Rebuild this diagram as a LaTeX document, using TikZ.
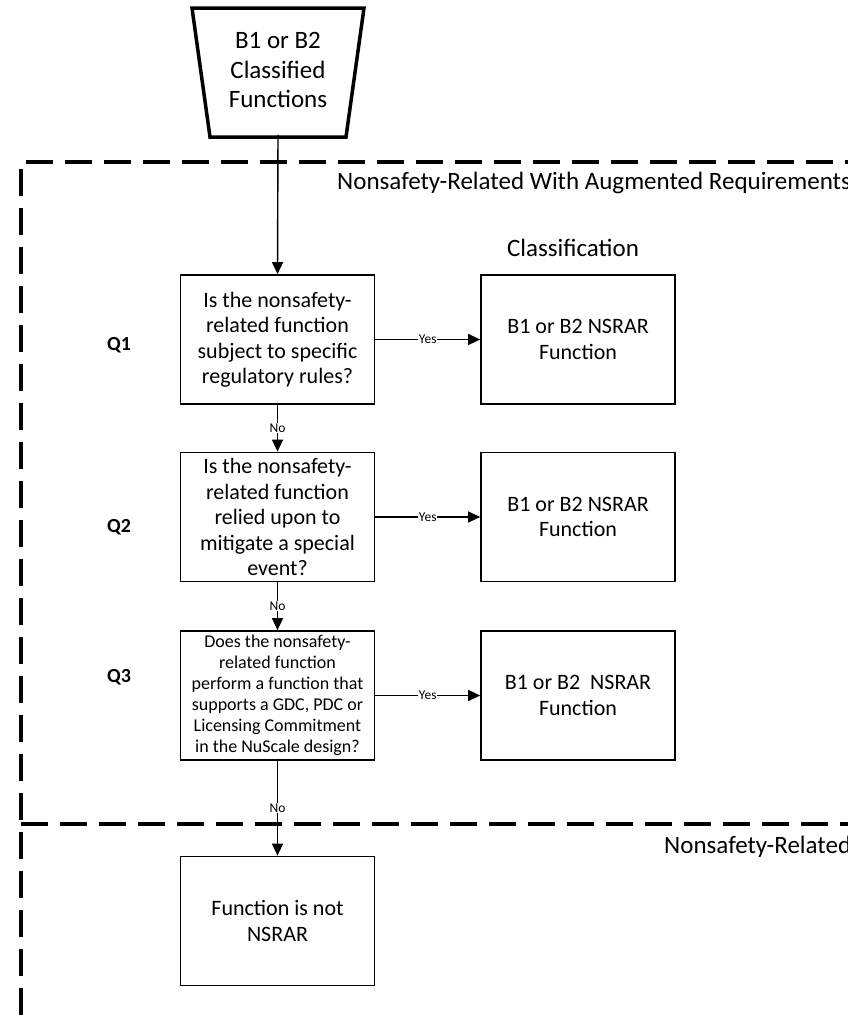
\documentclass[tikz,border=0pt]{standalone}
\usepackage{fontspec}
\setmainfont{Carlito}
\usetikzlibrary{arrows.meta}
\begin{document}
\begin{tikzpicture}[x=1pt,y=-1pt,
  box/.style={draw, line width=1.7pt, minimum width=194pt, minimum height=129pt, inner sep=0pt, align=center, fill=white},
  qtext/.style={font=\fontsize{22}{25.5}\selectfont},
  qsmall/.style={font=\fontsize{18}{21}\selectfont},
  arr/.style={line width=1.4pt, -{Triangle[length=12pt,width=11pt]}},
  lbl/.style={font=\fontsize{13.5}{15}\selectfont, fill=white, inner sep=0.5pt},
  region/.style={line width=3.6pt, dash pattern=on 27pt off 12pt},
  qlab/.style={font=\fontsize{20}{24}\selectfont\bfseries},
  zonelab/.style={font=\fontsize{25}{29}\selectfont, anchor=west, inner sep=0pt}
]
\useasboundingbox (0,0) rectangle (848,1015);
\fill[white] (0,0) rectangle (848,1015);
\begin{scope}
\clip (0,0) rectangle (848,1015);
% region boundaries
\draw[region] (21,1015) -- (21,162) -- (870,162);
\draw[region] (21,824) -- (870,824);
\node[zonelab] (zone1) at (337,183) {Nonsafety-Related With Augmented Requirements};
\node[zonelab] (zone2) at (664,847) {Nonsafety-Related};
\end{scope}

% source trapezoid
\draw[line width=3.5pt, fill=white] (192,8) -- (364,8) -- (346,137) -- (210,137) -- cycle;
\node[minimum height=129pt, inner sep=0pt, align=center, font=\fontsize{25}{29.5}\selectfont] (src) at (278,70) {B1 or B2\\Classified\\Functions};

\node[font=\fontsize{25}{29}\selectfont] (cls) at (573,248) {Classification};

% question boxes
\node[box, qtext] (q1) at (277.5,339.5) {Is the nonsafety-\\related function\\subject to specific\\regulatory rules?};
\node[box, qtext] (q2) at (277.5,517) {Is the nonsafety-\\related function\\relied upon to\\mitigate a special\\event?};
\node[box, qsmall] (q3) at (277.5,695.5) {Does the nonsafety-\\related function\\perform a function that\\supports a GDC, PDC or\\Licensing Commitment\\in the NuScale design?};

% classification boxes
\node[box, qtext] (r1) at (578,339.5) {B1 or B2 NSRAR\\Function};
\node[box, qtext] (r2) at (578,517) {B1 or B2 NSRAR\\Function};
\node[box, qtext] (r3) at (578,695.5) {B1 or B2~ NSRAR\\Function};

% final box
\node[box, qtext] (fin) at (277.5,921) {Function is not\\NSRAR};

% Q labels
\node[qlab] (l1) at (119,345) {Q1};
\node[qlab] (l2) at (119,527) {Q2};
\node[qlab] (l3) at (119,677) {Q3};

% connectors
\draw[arr] (src.south) -- (q1.north);
\draw[arr] (q1) -- node[lbl] {Yes} (r1);
\draw[arr] (q2) -- node[lbl] {Yes} (r2);
\draw[arr] (q3) -- node[lbl] {Yes} (r3);
\draw[arr] (q1) -- node[lbl] {No} (q2);
\draw[arr] (q2) -- node[lbl] {No} (q3);
\draw[arr] (q3.south) -- node[lbl, pos=0.5] {No} (fin.north);
\end{tikzpicture}
\end{document}
